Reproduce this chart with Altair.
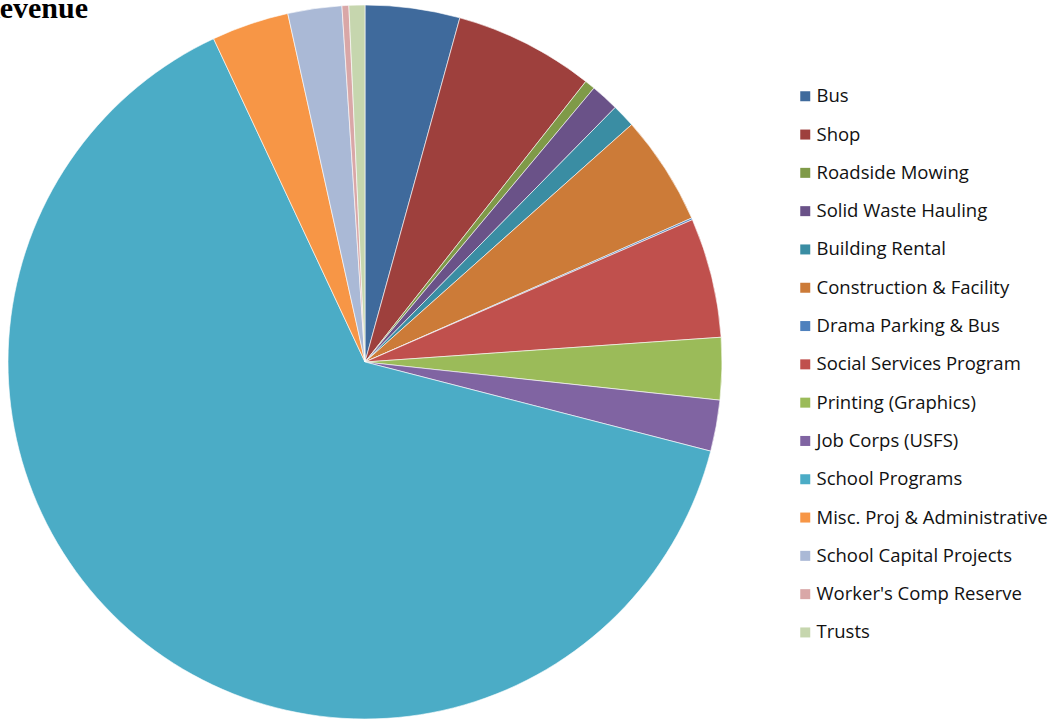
import altair as alt
import pandas as pd

categories = ["Bus", "Shop", "Roadside Mowing", "Solid Waste Hauling", "Building Rental",
              "Construction & Facility", "Drama Parking & Bus", "Social Services Program",
              "Printing (Graphics)", "Job Corps (USFS)", "School Programs",
              "Misc. Proj & Administrative", "School Capital Projects",
              "Worker's Comp Reserve", "Trusts"]
shares = [4.28, 6.33, 0.47, 1.28, 1.06, 4.97, 0.08, 5.42, 2.81, 2.31, 64.0, 3.5, 2.44, 0.31, 0.72]
colors = ["#3F6A9C", "#9E403D", "#7F9A48", "#6A5288", "#3A8DA3", "#CC7B38", "#4F81BD",
          "#C0504D", "#9BBB59", "#8064A2", "#4BACC6", "#F79646", "#AAB9D6", "#D9A7A7", "#C6D6AE"]

df = pd.DataFrame({"category": categories, "share": shares, "idx": list(range(len(categories)))})

pie = alt.Chart(df).mark_arc(stroke="#ffffff", strokeWidth=0.6).encode(
    theta=alt.Theta("share:Q", stack=True),
    order=alt.Order("idx:Q"),
    color=alt.Color(
        "category:N",
        sort=categories,
        scale=alt.Scale(domain=categories, range=colors),
        legend=alt.Legend(
            title=None, orient="none", legendX=796, legendY=87,
            symbolType="square", symbolSize=100, symbolStrokeWidth=0,
            labelFont="Open Sans", labelFontSize=18.5, labelColor="#111111",
            labelOffset=2, rowPadding=19.3, labelLimit=400,
        ),
    ),
    x=alt.value(365),
    y=alt.value(362),
    radius=alt.value(357),
)

title = alt.Chart(pd.DataFrame({"t": ["Revenue"]})).mark_text(
    font="Liberation Serif", fontSize=30, fontWeight="bold", align="left",
    baseline="alphabetic", color="#000000"
).encode(text="t:N", x=alt.value(-22), y=alt.value(18))

chart = alt.layer(pie, title).properties(
    width=1055, height=721, padding=0, autosize=alt.AutoSizeParams(type="none")
).configure_view(stroke=None)

chart.save("out.html", embed_options={"renderer": "svg", "actions": False})
